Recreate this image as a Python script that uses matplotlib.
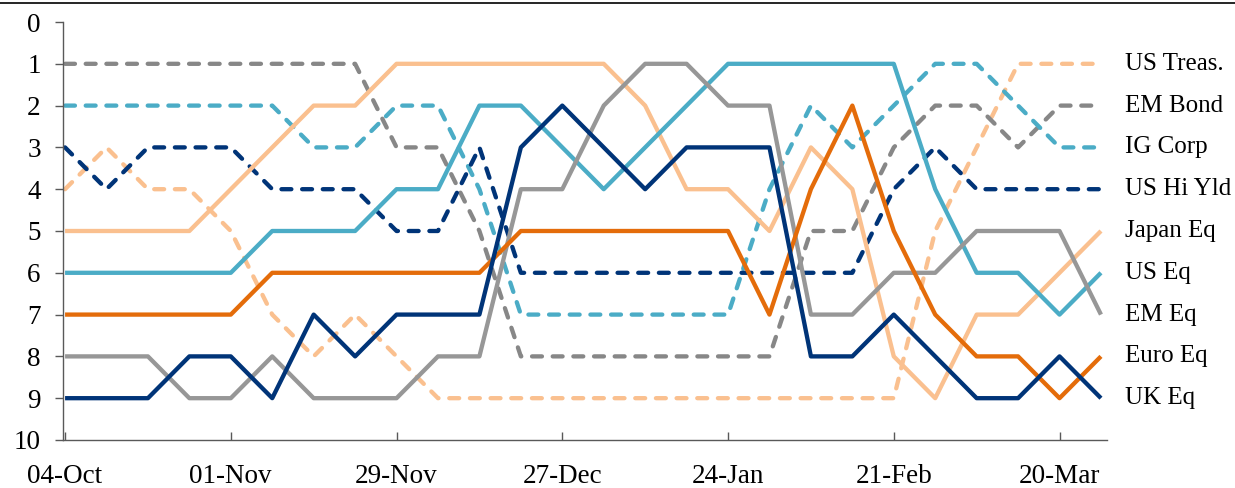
import pandas as pd
import matplotlib
matplotlib.use("Agg")
import matplotlib.pyplot as plt
import matplotlib.dates as mdates
from matplotlib.lines import Line2D

# weekly ranking of asset classes (1 = best)
weeks = pd.date_range("2019-10-04", periods=26, freq="7D")

us_treas  = [4, 3, 4, 4, 5, 7, 8, 7, 8, 9, 9, 9, 9, 9, 9, 9, 9, 9, 9, 9, 9, 5, 3, 1, 1, 1]
em_bond   = [1, 1, 1, 1, 1, 1, 1, 1, 3, 3, 5, 8, 8, 8, 8, 8, 8, 8, 5, 5, 3, 2, 2, 3, 2, 2]
ig_corp   = [2, 2, 2, 2, 2, 2, 3, 3, 2, 2, 4, 7, 7, 7, 7, 7, 7, 4, 2, 3, 2, 1, 1, 2, 3, 3]
us_hi_yld = [3, 4, 3, 3, 3, 4, 4, 4, 5, 5, 3, 6, 6, 6, 6, 6, 6, 6, 6, 6, 4, 3, 4, 4, 4, 4]
japan_eq  = [5, 5, 5, 5, 4, 3, 2, 2, 1, 1, 1, 1, 1, 1, 2, 4, 4, 5, 3, 4, 8, 9, 7, 7, 6, 5]
us_eq     = [6, 6, 6, 6, 6, 5, 5, 5, 4, 4, 2, 2, 3, 4, 3, 2, 1, 1, 1, 1, 1, 4, 6, 6, 7, 6]
em_eq     = [8, 8, 8, 9, 9, 8, 9, 9, 9, 8, 8, 4, 4, 2, 1, 1, 2, 2, 7, 7, 6, 6, 5, 5, 5, 7]
euro_eq   = [7, 7, 7, 7, 7, 6, 6, 6, 6, 6, 6, 5, 5, 5, 5, 5, 5, 7, 4, 2, 5, 7, 8, 8, 9, 8]
uk_eq     = [9, 9, 9, 8, 8, 9, 7, 8, 7, 7, 7, 3, 2, 3, 4, 3, 3, 3, 8, 8, 7, 8, 9, 9, 8, 9]

labels = ["US Treas.", "EM Bond", "IG Corp", "US Hi Yld", "Japan Eq",
          "US Eq", "EM Eq", "Euro Eq", "UK Eq"]

PEACH = "#FAC08F"
GRAY_D = "#878787"
GRAY_S = "#979797"
LBLUE = "#4BACC6"
NAVY = "#003478"
ORANGE = "#E46C0A"

series = [
    (us_treas,  PEACH,  True),
    (em_bond,   GRAY_D, True),
    (ig_corp,   LBLUE,  True),
    (us_hi_yld, NAVY,   True),
    (japan_eq,  PEACH,  False),
    (us_eq,     LBLUE,  False),
    (em_eq,     GRAY_S, False),
    (euro_eq,   ORANGE, False),
    (uk_eq,     NAVY,   False),
]

plt.rcParams["font.family"] = ["Liberation Serif", "DejaVu Serif"]

fig = plt.figure(figsize=(12.35, 4.88), dpi=100)
ax = fig.add_axes([0.051, 0.0984, 0.8455, 0.8565])

for (vals, col, dashed), name in zip(series, labels):
    kw = dict(color=col, lw=3.1, solid_joinstyle="round", solid_capstyle="butt")
    if dashed:
        kw.update(linestyle=(0, (2.3, 2.5)), dash_capstyle="round", dash_joinstyle="round")
    ax.plot(weeks, vals, **kw)
    ax.annotate(name, xy=(weeks[-1], vals[-1]), xytext=(17, 0),
                textcoords="offset points", va="center", ha="left",
                fontsize=18, color="black", annotation_clip=False)

ax.set_ylim(10, 0)
ax.set_yticks(range(0, 11))
step = pd.Timedelta(days=7)
ax.set_xlim(weeks[0] - 0.05 * step, weeks[0] + 25.15 * step)
ax.set_xticks(weeks[::4])
ax.xaxis.set_major_formatter(mdates.DateFormatter("%d-%b"))

for s in ("top", "right"):
    ax.spines[s].set_visible(False)
for s in ("left", "bottom"):
    ax.spines[s].set_color("#595959")
    ax.spines[s].set_linewidth(1.0)

ax.tick_params(axis="y", direction="out", length=6, width=1, color="#595959",
               labelsize=19.5, pad=10)
ax.tick_params(axis="x", direction="in", length=6, width=1, color="#595959",
               labelsize=19.5, pad=17)

# rule across the top of the figure
fig.add_artist(Line2D([0, 1], [0.994, 0.994], color="black", lw=1.2,
                      transform=fig.transFigure))

fig.savefig("out.png", dpi=100)
